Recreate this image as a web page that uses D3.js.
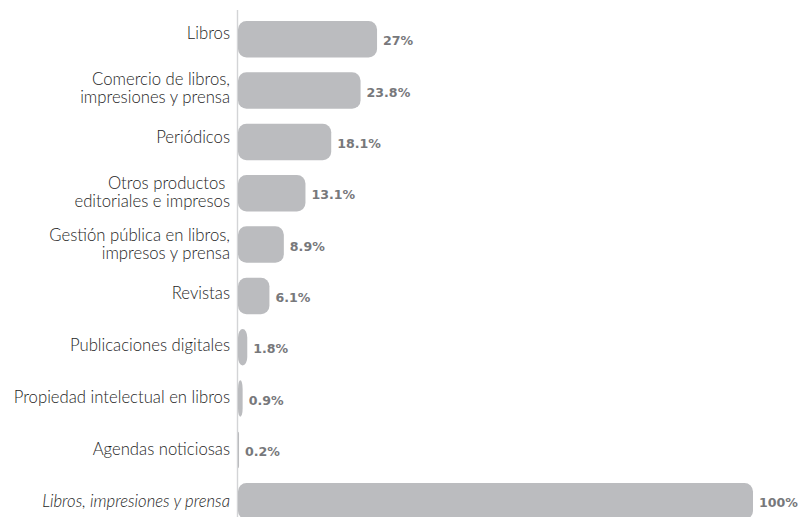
<!DOCTYPE html>
<html>
<head>
<meta charset="utf-8">
<script src="https://cdn.jsdelivr.net/npm/d3@7"></script>
<style>
  html, body { margin: 0; padding: 0; background: #fff; }
  svg { display: block; }
</style>
</head>
<body>
<svg id="chart" width="799" height="517"></svg>
<script>
// Participación por subsector (porcentaje)
const categories = [
  "Libros",
  "Comercio de libros,|impresiones y prensa",
  "Periódicos",
  "Otros productos |editoriales e impresos",
  "Gestión pública en libros,|impresos y prensa",
  "Revistas",
  "Publicaciones digitales",
  "Propiedad intelectual en libros",
  "Agendas noticiosas",
  "Libros, impresiones y prensa"
];
const values = [27, 23.8, 18.1, 13.1, 8.9, 6.1, 1.8, 0.9, 0.2, 100];
const valueLabels = ["27%", "23.8%", "18.1%", "13.1%", "8.9%", "6.1%", "1.8%", "0.9%", "0.2%", "100%"];
const totalCategory = "Libros, impresiones y prensa";

const svg = d3.select("#chart");
const W = 799, H = 517;
const top0 = 21, rowStep = 51.33, barH = 36.5;
const pad = 1 - barH / rowStep;

const x = d3.scaleLinear().domain([0, 100]).range([238, 753]);
const y = d3.scaleBand()
  .domain(categories)
  .range([top0, top0 + rowStep * categories.length - pad * rowStep])
  .paddingInner(pad)
  .paddingOuter(0);
// Text rows of the category column run on a slightly looser grid
const yLabel = d3.scalePoint().domain(categories).range([39, 507]);

// Vertical baseline
svg.append("line")
  .attr("x1", 237.5).attr("x2", 237.5)
  .attr("y1", 10).attr("y2", H)
  .attr("stroke", "#d3d4d6").attr("stroke-width", 1.4);

const barColor = "#bbbcbf";
const bh = y.bandwidth();

const rows = svg.append("g").selectAll("g")
  .data(categories.map((c, i) => ({ c, v: values[i], lab: valueLabels[i] })))
  .join("g");

rows.append("rect")
  .attr("x", x(0))
  .attr("y", d => y(d.c))
  .attr("width", d => Math.max(0.8, x(d.v) - x(0)))
  .attr("height", bh)
  .attr("rx", d => Math.min(8.5, (x(d.v) - x(0)) / 2))
  .attr("ry", d => Math.min(8.5, Math.max(2, (x(d.v) - x(0)) * 2)))
  .attr("fill", barColor);

// Value labels
rows.append("text")
  .attr("x", d => x(d.v) + 6)
  .attr("y", d => y(d.c) + bh / 2 + 6)
  .attr("font-family", "'DejaVu Sans', sans-serif")
  .attr("font-weight", 700)
  .attr("font-size", 12.6)
  .attr("fill", "#77787b")
  .text(d => d.lab);

// Category labels (split on "|" into lines)
const lineH = 18.5;
rows.append("text")
  .attr("text-anchor", "end")
  .attr("font-family", "Lato, 'Open Sans', sans-serif")
  .attr("font-weight", 300)
  .attr("font-size", 16.7)
  .attr("font-style", d => d.c === totalCategory ? "italic" : "normal")
  .attr("fill", "#1e1e1e")
  .each(function(d) {
    const lines = d.c.split("|");
    const base = yLabel(d.c) + (lines.length > 1 ? 3 : 0);
    const t = d3.select(this);
    lines.forEach((ln, i) => {
      t.append("tspan")
        .attr("x", 230)
        .attr("y", base + (i - (lines.length - 1) / 2) * lineH)
        .text(ln);
    });
  });
</script>
</body>
</html>
